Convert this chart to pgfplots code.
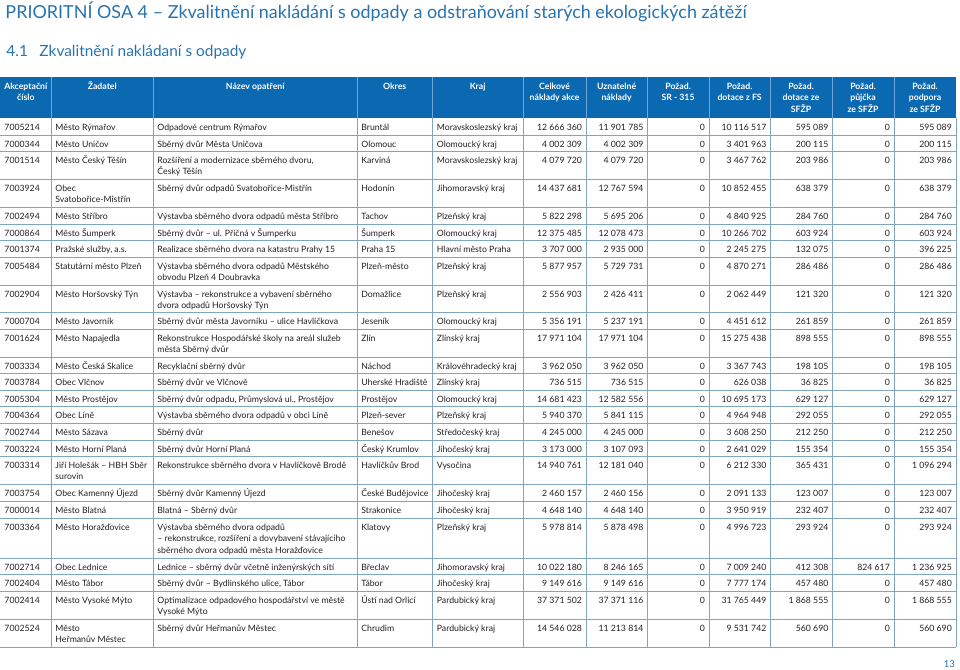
\documentclass[border=0pt]{standalone}
\usepackage{pgfplots}
\pgfplotsset{compat=1.18}
\usepackage{pgfplotstable}
\usepackage{fontspec}
\setmainfont{Lato}
\definecolor{titleblue}{HTML}{2673B0}
\definecolor{headblue}{HTML}{0B69B2}
\definecolor{headsep}{HTML}{6FA6D6}
\definecolor{gridc}{HTML}{7FA5C0}
\definecolor{txt}{HTML}{231F20}
\newcommand\bodyfont{\fontsize{8.7}{10}\selectfont}
\newcommand\numfont{\fontsize{8.7}{10}\selectfont}
\newcommand\headfont{\fontsize{8.7}{10}\selectfont\bfseries}

\pgfplotstableread[col sep=semicolon]{
y;id;zad;naz;okr;kraj;celk;uzn;sr;fs;sfzp;pujc;podp
130.3;7005214;Město Rýmařov;Odpadové centrum Rýmařov;Bruntál;Moravskoslezský kraj;12 666 360;11 901 785;0;10 116 517;595 089;0;595 089
147.3;7000344;Město Uničov;Sběrný dvůr Města Uničova;Olomouc;Olomoucký kraj;4 002 309;4 002 309;0;3 401 963;200 115;0;200 115
163.3;7001514;Město Český Těšín;Rozšíření a modernizace sběrného dvoru,;Karviná;Moravskoslezský kraj;4 079 720;4 079 720;0;3 467 762;203 986;0;203 986
191.3;7003924;Obec;Sběrný dvůr odpadů Svatobořice-Mistřín;Hodonín;Jihomoravský kraj;14 437 681;12 767 594;0;10 852 455;638 379;0;638 379
219.3;7002494;Město Stříbro;Výstavba sběrného dvora odpadů města Stříbro;Tachov;Plzeňský kraj;5 822 298;5 695 206;0;4 840 925;284 760;0;284 760
236.3;7000864;Město Šumperk;Sběrný dvůr – ul. Příčná v Šumperku;Šumperk;Olomoucký kraj;12 375 485;12 078 473;0;10 266 702;603 924;0;603 924
252.3;7001374;Pražské služby, a.s.;Realizace sběrného dvora na katastru Prahy 15;Praha 15;Hlavní město Praha;3 707 000;2 935 000;0;2 245 275;132 075;0;396 225
269.3;7005484;Statutární město Plzeň;Výstavba sběrného dvora odpadů Městského;Plzeň-město;Plzeňský kraj;5 877 957;5 729 731;0;4 870 271;286 486;0;286 486
297.3;7002904;Město Horšovský Týn;Výstavba – rekonstrukce a vybavení sběrného;Domažlice;Plzeňský kraj;2 556 903;2 426 411;0;2 062 449;121 320;0;121 320
324.3;7000704;Město Javorník;Sběrný dvůr města Javorníku – ulice Havlíčkova;Jeseník;Olomoucký kraj;5 356 191;5 237 191;0;4 451 612;261 859;0;261 859
341.3;7001624;Město Napajedla;Rekonstrukce Hospodářské školy na areál služeb;Zlín;Zlínský kraj;17 971 104;17 971 104;0;15 275 438;898 555;0;898 555
369.3;7003334;Město Česká Skalice;Recyklační sběrný dvůr;Náchod;Královéhradecký kraj;3 962 050;3 962 050;0;3 367 743;198 105;0;198 105
385.3;7003784;Obec Vlčnov;Sběrný dvůr ve Vlčnově;Uherské Hradiště;Zlínský kraj;736 515;736 515;0;626 038;36 825;0;36 825
402.3;7005304;Město Prostějov;Sběrný dvůr odpadu, Průmyslová ul., Prostějov;Prostějov;Olomoucký kraj;14 681 423;12 582 556;0;10 695 173;629 127;0;629 127
418.3;7004364;Obec Líně;Výstavba sběrného dvora odpadů v obci Líně;Plzeň-sever;Plzeňský kraj;5 940 370;5 841 115;0;4 964 948;292 055;0;292 055
435.3;7002744;Město Sázava;Sběrný dvůr;Benešov;Středočeský kraj;4 245 000;4 245 000;0;3 608 250;212 250;0;212 250
452.3;7003224;Město Horní Planá;Sběrný dvůr Horní Planá;Český Krumlov;Jihočeský kraj;3 173 000;3 107 093;0;2 641 029;155 354;0;155 354
468.3;7003314;Jiří Holešák – HBH Sběr;Rekonstrukce sběrného dvora v Havlíčkově Brodě;Havlíčkův Brod;Vysočina;14 940 761;12 181 040;0;6 212 330;365 431;0;1 096 294
496.3;7003754;Obec Kamenný Újezd;Sběrný dvůr Kamenný Újezd;České Budějovice;Jihočeský kraj;2 460 157;2 460 156;0;2 091 133;123 007;0;123 007
513.3;7000014;Město Blatná;Blatná – Sběrný dvůr;Strakonice;Jihočeský kraj;4 648 140;4 648 140;0;3 950 919;232 407;0;232 407
530.3;7003364;Město Horažďovice;Výstavba sběrného dvora odpadů;Klatovy;Plzeňský kraj;5 978 814;5 878 498;0;4 996 723;293 924;0;293 924
570.3;7002714;Obec Lednice;Lednice – sběrný dvůr včetně inženýrských sítí;Břeclav;Jihomoravský kraj;10 022 180;8 246 165;0;7 009 240;412 308;824 617;1 236 925
586.3;7002404;Město Tábor;Sběrný dvůr – Bydlinského ulice, Tábor;Tábor;Jihočeský kraj;9 149 616;9 149 616;0;7 777 174;457 480;0;457 480
603.3;7002414;Město Vysoké Mýto;Optimalizace odpadového hospodářství ve městě;Ústí nad Orlicí;Pardubický kraj;37 371 502;37 371 116;0;31 765 449;1 868 555;0;1 868 555
631.3;7002524;Město;Sběrný dvůr Heřmanův Městec;Chrudim;Pardubický kraj;14 546 028;11 213 814;0;9 531 742;560 690;0;560 690
}\rows

\pgfplotstableread[col sep=semicolon]{
x;y;t
157;175.0;Český Těšín
55;203.0;Svatobořice-Mistřín
157;281.0;obvodu Plzeň 4 Doubravka
157;309.0;dvora odpadů Horšovský Týn
157;353.0;města Sběrný dvůr
55;480.0;surovin
157;542.0;– rekonstrukce, rozšíření a dovybavení stávajícího
157;553.7;sběrného dvora odpadů města Horažďovice
157;615.0;Vysoké Mýto
55;643.0;Heřmanův Městec
}\cont

\newcommand\lcol[2]{\addplot[draw=none, mark=none, point meta=explicit symbolic, nodes near coords,
  every node near coord/.append style={anchor=base west}] table[x expr=#1, y=y, meta=#2]{\rows};}
\newcommand\rcol[2]{\addplot[draw=none, mark=none, point meta=explicit symbolic, nodes near coords,
  every node near coord/.append style={anchor=base east, font=\numfont}] table[x expr=#1, y=y, meta=#2]{\rows};}
\newcommand\hd[3]{\node[anchor=base, font=\headfont, text=white, inner sep=0pt] at (axis cs:#1,#2) {#3};}

\begin{document}
\begin{tikzpicture}
\begin{axis}[
  width=960pt, height=670pt, scale only axis,
  xmin=0, xmax=960, ymin=0, ymax=670, y dir=reverse,
  hide axis, clip=false,
  every node near coord/.append style={inner sep=0pt, font=\bodyfont, text=txt},
]
\path (rel axis cs:0,0) rectangle (rel axis cs:1,1);
% titles
\node[anchor=base west, inner sep=0pt, font=\fontsize{17.95}{19}\selectfont, text=titleblue] at (axis cs:5,18.5)
  {PRIORITNÍ OSA 4 – Zkvalitnění nakládání s odpady a odstraňování starých ekologických zátěží};
\node[anchor=base west, inner sep=0pt, font=\fontsize{15.4}{17}\selectfont, text=titleblue] at (axis cs:6,56.8) {4.1};
\node[anchor=base west, inner sep=0pt, font=\fontsize{15.4}{17}\selectfont, text=titleblue] at (axis cs:39,56.8) {Zkvalitnění nakládaní s odpady};
\node[anchor=base east, inner sep=0pt, font=\fontsize{9.5}{10}\selectfont, text=titleblue] at (axis cs:955,668) {13};
% header
\fill[headblue] (axis cs:0,77) rectangle (axis cs:956,118);
\pgfplotsinvokeforeach{51,153,357,432,523,586,647,709,770,832,894}{
  \draw[headsep, line width=0.6pt] (axis cs:#1,77) -- (axis cs:#1,118);}
\hd{25.5}{89.5}{Akceptační}\hd{25.5}{101}{číslo}
\hd{102}{89.5}{Žadatel}
\hd{255}{89.5}{Název opatření}
\hd{394.5}{89.5}{Okres}
\hd{477.5}{89.5}{Kraj}
\hd{554.5}{89.5}{Celkové}\hd{554.5}{101}{náklady akce}
\hd{616.5}{89.5}{Uznatelné}\hd{616.5}{101}{náklady}
\hd{678}{89.5}{Požad.}\hd{678}{101}{SR - 315}
\hd{739.5}{89.5}{Požad.}\hd{739.5}{101}{dotace z FS}
\hd{801}{89.5}{Požad.}\hd{801}{101}{dotace ze}\hd{801}{112.5}{SFŽP}
\hd{863}{89.5}{Požad.}\hd{863}{101}{půjčka}\hd{863}{112.5}{ze SFŽP}
\hd{925}{89.5}{Požad.}\hd{925}{101}{podpora}\hd{925}{112.5}{ze SFŽP}
% grid
\pgfplotsinvokeforeach{135,151,179,207,224,240,257,285,312,329,357,373,390,406,423,440,456,484,501,518,558,574,591,619,647}{
  \draw[gridc, line width=0.6pt] (axis cs:0,#1) -- (axis cs:956,#1);}
\pgfplotsinvokeforeach{51,153,357,432,523,586,647,709,770,832,894,956}{
  \draw[gridc, line width=0.6pt] (axis cs:#1,118) -- (axis cs:#1,647);}
% cells
\lcol{4}{id}
\lcol{55}{zad}
\lcol{157}{naz}
\lcol{361}{okr}
\lcol{436.5}{kraj}
\rcol{582}{celk}
\rcol{643.5}{uzn}
\rcol{705}{sr}
\rcol{766.5}{fs}
\rcol{828.5}{sfzp}
\rcol{890}{pujc}
\rcol{952}{podp}
\addplot[draw=none, mark=none, point meta=explicit symbolic, nodes near coords,
  every node near coord/.append style={anchor=base west}] table[x=x, y=y, meta=t]{\cont};
\end{axis}
\end{tikzpicture}
\end{document}
